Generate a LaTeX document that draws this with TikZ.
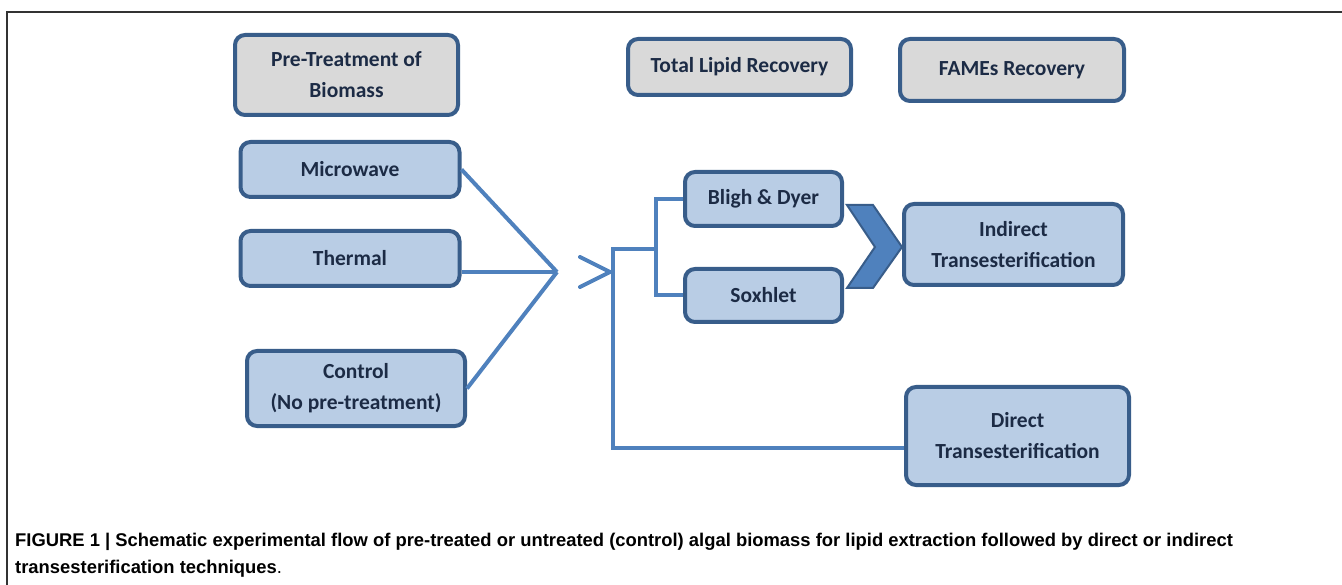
\documentclass[tikz,border=0pt]{standalone}
\usepackage{fontspec}
\setmainfont{Carlito}
\newfontfamily\capfont{Liberation Sans}
\usetikzlibrary{positioning,calc}
\definecolor{boxfill}{HTML}{B9CDE5}
\definecolor{boxline}{HTML}{385D8A}
\definecolor{flow}{HTML}{4F81BD}
\definecolor{hdfill}{HTML}{D9D9D9}
\definecolor{txt}{HTML}{1C2B45}
\tikzset{bx/.style={draw=boxline, fill=boxfill, line width=4pt, rounded corners=10pt, align=center, text=txt, inner sep=0pt, font=\fontsize{21.5}{31}\selectfont\bfseries}}
\tikzstyle{hd}=[bx, fill=hdfill]
\tikzstyle{ln}=[draw=flow, line width=4pt]
\tikzstyle{captxt}=[anchor=base west, inner sep=0pt, font=\capfont\fontsize{18.4}{22}\selectfont\bfseries]

\begin{document}
\begin{tikzpicture}[x=1pt, y=-1pt]
\useasboundingbox (0,0) rectangle (1342,585);
\draw[black!80, line width=1.5pt] (7,585) -- (7,12) -- (1342,12);

% column heads
\node[hd, minimum width=223pt, minimum height=80pt] (pre) at (346.5,75) {Pre-Treatment of\\Biomass};
\node[hd, minimum width=223pt, minimum height=56pt] (tlr) at (739.5,67) {Total Lipid Recovery};
\node[hd, minimum width=224pt, minimum height=62pt] (fr) at (1012,70) {FAMEs Recovery};

% pre-treatments
\node[bx, minimum width=219pt, minimum height=55pt] (mw) at (350,169.5) {Microwave};
\node[bx, minimum width=219pt, minimum height=55pt] (th) at (350,258.5) {Thermal};
\node[bx, minimum width=218pt, minimum height=75pt] (ctl) at (356,388.5) {Control\\(No pre-treatment)};

% extraction + transesterification
\node[bx, minimum width=157pt, minimum height=54pt] (bd) at (763.5,199) {Bligh \& Dyer};
\node[bx, minimum width=157pt, minimum height=53pt] (sx) at (763.5,295.5) {Soxhlet};
\node[bx, minimum width=219pt, minimum height=81pt] (it) at (1013.5,244.5) {Indirect\\Transesterification};
\node[bx, minimum width=223pt, minimum height=98pt] (dt) at (1017.5,436) {Direct\\Transesterification};

\coordinate (merge) at (557,272);
\coordinate (split) at (613,249);
\coordinate (low) at (613,448);
\coordinate (sub) at (656,249);

\draw[ln] (mw.east) -- (merge);
\draw[ln] (th.east |- merge) -- (merge);
\draw[ln] (ctl.east) -- (merge);
\draw[ln, line cap=round] ($(merge)+(23,-15)$) -- ++(30,15) -- ++(-30,15);
\draw[ln] (sub) -- (split) -- (low) -- (dt.west |- low);
\draw[ln] (bd.west) -| (sub) |- (sx.west);
\filldraw[fill=flow, draw=boxline, line width=2pt] (847,205) -- (873,205) -- (902,247) -- (873,288) -- (847,288) -- (875,247) -- cycle;

\node[captxt] (cap1) at (15,546) {FIGURE 1 | Schematic experimental flow of pre-treated or untreated (control) algal biomass for lipid extraction followed by direct or indirect};
\node[captxt] (cap2) at (15,573) {transesterification techniques{\mdseries .}};
\end{tikzpicture}
\end{document}
